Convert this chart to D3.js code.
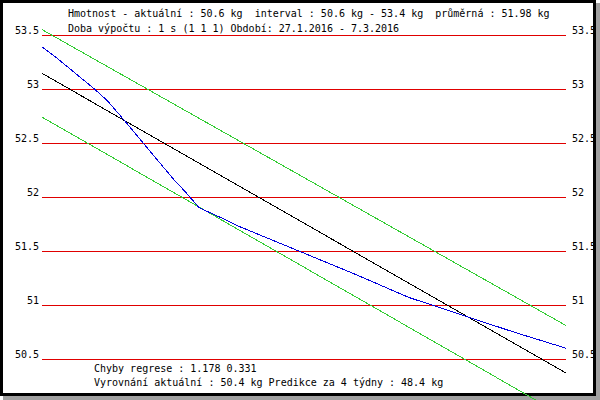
<!DOCTYPE html>
<html>
<head>
<meta charset="utf-8">
<script src="https://cdn.jsdelivr.net/npm/d3@7"></script>
<style>
  body { margin: 0; background: #fff; }
  svg text { font-family: "DejaVu Sans Mono", monospace; font-size: 10px; fill: #000; }
</style>
</head>
<body>
<div id="root"></div>
<script>
// weight values, day 0 = 27.1.2016, day 40 = 7.3.2016
var days = [0, 1, 4, 5, 6, 8, 10, 11, 12, 14, 15, 20, 24, 28, 30, 33, 36, 40];
var weights = [53.39, 53.30, 53.00, 52.89, 52.75, 52.46, 52.17, 52.04, 51.90, 51.79, 51.73, 51.48, 51.28, 51.07, 50.99, 50.87, 50.75, 50.60];

// regression line and its band (values at first and last day)
var lineDays = [0, 40];
var regression = [53.145, 50.37];
var bandUpper = [53.55, 50.81];
var bandLower = [52.74, 49.96];

var yTicks = [50.5, 51, 51.5, 52, 52.5, 53, 53.5];

var headerLines = [
  "Hmotnost - aktuální : 50.6 kg  interval : 50.6 kg - 53.4 kg  průměrná : 51.98 kg",
  "Doba výpočtu : 1 s (1 1 1) Období: 27.1.2016 - 7.3.2016"
];
var footerLines = [
  "Chyby regrese : 1.178 0.331",
  "Vyrovnání aktuální : 50.4 kg Predikce za 4 týdny : 48.4 kg"
];

// sizes
var svgWidth = 600;
var svgHeight = 400;
var plot = { left: 42, right: 566, top: 35, bottom: 359 };

var x = d3.scaleLinear().domain([0, 40]).range([plot.left, plot.right]);
var y = d3.scaleLinear().domain([50.5, 53.5]).range([plot.bottom, plot.top]);

var svg = d3.select("#root").append("svg")
  .attr("width", svgWidth)
  .attr("height", svgHeight);

// shadow behind the frame
svg.append("rect")
  .attr("x", 3).attr("y", 3)
  .attr("width", 597).attr("height", 397)
  .attr("fill", "#a0a0a0");
svg.append("rect")
  .attr("x", 0).attr("y", 0)
  .attr("width", 596).attr("height", 396)
  .attr("fill", "#fff");

// left axis with red grid lines
var leftAxis = svg.append("g")
  .attr("transform", `translate(${plot.left},0)`)
  .call(d3.axisLeft(y).tickValues(yTicks).tickSize(-(plot.right - plot.left)).tickPadding(3)
    .tickFormat(d3.format("")));
leftAxis.select(".domain").remove();
leftAxis.selectAll("line").attr("stroke", "#e00000").attr("shape-rendering", "crispEdges");
leftAxis.selectAll("text").attr("dy", null).attr("y", -2);
leftAxis.attr("font-family", null).attr("font-size", null);

// right labels
var rightAxis = svg.append("g")
  .attr("transform", `translate(${plot.right},0)`)
  .call(d3.axisRight(y).tickValues(yTicks).tickSize(0).tickPadding(6)
    .tickFormat(d3.format("")));
rightAxis.select(".domain").remove();
rightAxis.selectAll("text").attr("dy", null).attr("y", -2);
rightAxis.attr("font-family", null).attr("font-size", null);

// lines
var line = d3.line()
  .x(d => x(d[0]))
  .y(d => y(d[1]));

function addLine(xs, vals, color) {
  svg.append("path")
    .datum(xs.map((d, i) => [d, vals[i]]))
    .attr("d", line)
    .attr("fill", "none")
    .attr("stroke", color)
    .attr("stroke-width", 1)
    .attr("shape-rendering", "crispEdges");
}

// frame (drawn before the lines, the lower band line runs over it)
svg.append("rect")
  .attr("x", 1.5).attr("y", 1.5)
  .attr("width", 593).attr("height", 393)
  .attr("fill", "none")
  .attr("stroke", "#000")
  .attr("stroke-width", 3);

addLine(lineDays, bandUpper, "#33cc33");
addLine(lineDays, bandLower, "#33cc33");
addLine(lineDays, regression, "#000");
addLine(days, weights, "#0000dd");

// texts
svg.selectAll(".header")
  .data(headerLines)
  .enter()
  .append("text")
  .attr("class", "header")
  .attr("x", 68)
  .attr("y", (d, i) => 17 + i * 15)
  .style("white-space", "pre")
  .text(d => d);

svg.selectAll(".footer")
  .data(footerLines)
  .enter()
  .append("text")
  .attr("class", "footer")
  .attr("x", 94)
  .attr("y", (d, i) => 372 + i * 14)
  .style("white-space", "pre")
  .text(d => d);
</script>
</body>
</html>
